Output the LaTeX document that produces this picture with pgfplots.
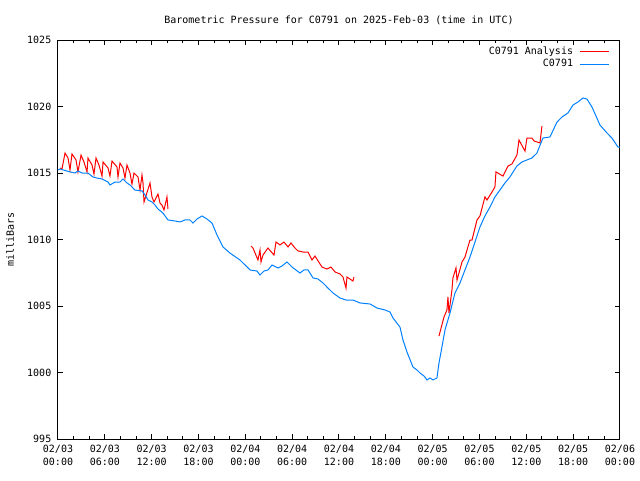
\documentclass[border=0pt]{standalone}
\usepackage{fontspec}
\setmainfont{DejaVu Sans Mono}
\usepackage{pgfplots}
\pgfplotsset{compat=1.18}
\definecolor{gred}{RGB}{255,0,0}
\definecolor{gblue}{RGB}{0,128,255}
\begin{document}
\begin{tikzpicture}
\useasboundingbox (-43.5pt,-30.75pt) rectangle (436.5pt,329.25pt);
\begin{axis}[
  at={(0,0)}, anchor=south west,
  scale only axis, width=421.5pt, height=299.25pt,
  xmin=0, xmax=72, ymin=995, ymax=1025,
  xtick={0,6,...,72}, minor xtick={2,4,8,10,14,16,20,22,26,28,32,34,38,40,44,46,50,52,56,58,62,64,68,70},
  ytick={995,1000,...,1025},
  xticklabels={02/03\\00:00,02/03\\06:00,02/03\\12:00,02/03\\18:00,02/04\\00:00,02/04\\06:00,02/04\\12:00,02/04\\18:00,02/05\\00:00,02/05\\06:00,02/05\\12:00,02/05\\18:00,02/06\\00:00},
  xticklabel style={align=center, font=\fontsize{7.5}{9.75}\selectfont, yshift=-1pt},
  yticklabel style={font=\fontsize{7.5}{9}\selectfont, xshift=-1.5pt},
  /pgf/number format/assume math mode=true,
  /pgf/number format/1000 sep={},
  tick align=inside,
  major tick length=3.75pt, minor tick length=2.25pt,
  every tick/.style={black, line width=0.75pt},
  axis line style={black, line width=0.75pt},
  title={Barometric Pressure for C0791 on 2025-Feb-03 (time in UTC)},
  every axis title/.style={at={(rel axis cs:0.5,1)}, yshift=15pt, anchor=center, font=\fontsize{7.5}{9}\selectfont},
  ylabel={milliBars},
  every axis y label/.style={at={(rel axis cs:0,0.5)}, xshift=-36pt, rotate=90, anchor=center, font=\fontsize{7.5}{9}\selectfont},
  legend plot pos=right,
  legend cell align=right,
  legend image code/.code={\draw[#1] (0pt,0pt) -- (21.75pt,0pt);},
  legend style={at={(rel axis cs:1,1)}, anchor=north east, xshift=-7.5pt, yshift=-5pt,
    draw=none, fill=none, inner sep=0pt, row sep=2.3pt,
    font=\fontsize{7.5}{9}\selectfont,
    nodes={inner sep=0pt, text height=5.5pt, text depth=1.5pt},
    /tikz/every odd column/.append style={column sep=5pt}},
  unbounded coords=jump,
]
\addplot[gred, line width=0.75pt, no marks] table {
x y
0.26 1015.38
0.51 1015.30
0.90 1016.50
1.28 1016.13
1.54 1015.23
1.79 1016.43
2.31 1015.98
2.56 1015.08
2.95 1016.35
3.33 1015.83
3.72 1015.08
3.84 1016.13
4.36 1015.60
4.61 1014.92
4.87 1016.13
5.25 1015.60
5.64 1014.77
5.77 1015.83
6.41 1015.38
6.66 1014.77
6.92 1015.90
7.56 1015.45
7.69 1014.70
7.94 1015.75
8.33 1015.38
8.58 1014.62
8.84 1015.60
9.22 1015.00
9.48 1014.17
9.74 1015.00
10.25 1014.70
10.51 1013.72
10.76 1014.85
10.89 1014.25
11.02 1012.82
11.79 1014.25
12.04 1013.20
12.30 1012.82
12.81 1013.42
13.07 1012.74
13.32 1012.59
13.58 1012.22
13.96 1013.20
14.09 1012.29
20.00 nan
24.73 1009.51
24.98 1009.36
25.62 1008.46
25.88 1009.21
26.01 1008.31
26.26 1008.83
26.90 1009.36
27.67 1008.83
27.93 1009.81
28.44 1009.59
28.95 1009.81
29.47 1009.44
29.85 1009.74
30.36 1009.36
30.75 1009.14
31.39 1009.06
32.03 1009.06
32.54 1008.46
32.92 1008.76
33.82 1007.93
34.46 1007.78
34.97 1007.93
35.49 1007.56
36.13 1007.41
36.51 1007.18
36.90 1006.35
37.02 1007.18
37.79 1006.88
37.92 1007.18
44.00 nan
48.81 1002.74
49.45 1004.17
49.83 1004.70
49.96 1005.68
50.09 1004.47
50.47 1006.20
50.60 1007.11
50.99 1007.86
51.12 1006.95
51.76 1008.31
52.14 1008.68
52.78 1009.96
53.04 1009.96
53.68 1011.47
54.06 1011.77
54.70 1013.20
54.96 1012.97
55.60 1013.57
55.98 1013.95
56.11 1015.08
57.01 1014.77
57.65 1015.53
58.16 1015.68
58.80 1016.35
59.06 1017.48
59.83 1016.65
60.08 1017.63
60.72 1017.63
60.98 1017.41
61.75 1017.26
62.00 1018.53
};
\addlegendentry{C0791 Analysis}
\addplot[gblue, line width=0.75pt, no marks] table {
x y
0 1015.23
0.26 1015.30
1.54 1015.08
2.18 1015.00
2.56 1015.15
3.08 1015.00
3.84 1015.00
4.48 1014.70
5.00 1014.62
5.64 1014.55
6.41 1014.32
6.66 1014.10
7.30 1014.32
7.94 1014.32
8.33 1014.55
8.84 1014.25
9.22 1014.10
9.86 1013.72
10.76 1013.65
11.15 1013.35
11.53 1012.97
12.04 1012.82
12.43 1012.59
12.81 1012.29
13.45 1011.99
14.09 1011.47
14.99 1011.39
15.63 1011.32
16.27 1011.47
16.91 1011.47
17.29 1011.24
17.81 1011.54
18.45 1011.77
19.09 1011.54
19.73 1011.24
20.37 1010.34
21.14 1009.44
22.03 1008.98
23.32 1008.46
24.60 1007.71
25.49 1007.63
25.88 1007.33
26.39 1007.63
26.90 1007.71
27.42 1008.08
28.18 1007.86
28.70 1008.01
29.34 1008.31
29.98 1007.93
31.00 1007.48
31.51 1007.71
32.03 1007.71
32.67 1007.11
33.31 1007.03
33.95 1006.73
34.59 1006.35
35.23 1005.98
36.13 1005.60
36.90 1005.45
37.79 1005.45
38.69 1005.23
39.97 1005.15
40.87 1004.85
41.89 1004.70
42.53 1004.55
42.92 1004.10
43.81 1003.42
44.20 1002.44
44.71 1001.54
45.48 1000.41
45.99 1000.19
46.38 999.96
46.89 999.74
47.27 999.44
47.66 999.59
48.04 999.44
48.55 999.59
48.81 1000.71
49.19 1001.92
49.58 1003.20
50.22 1004.47
50.86 1005.98
51.50 1006.73
52.14 1007.71
52.78 1008.68
53.42 1009.81
54.06 1010.94
54.70 1011.77
55.34 1012.44
55.98 1013.20
56.62 1013.72
57.26 1014.25
57.90 1014.70
58.80 1015.53
59.44 1015.83
60.08 1015.98
60.72 1016.13
61.36 1016.50
62.13 1017.63
63.03 1017.71
63.93 1018.83
64.57 1019.21
65.33 1019.51
65.98 1020.11
66.62 1020.34
67.26 1020.64
67.77 1020.56
68.41 1019.96
68.92 1019.29
69.43 1018.61
70.33 1018.01
70.97 1017.63
71.74 1016.95
72.00 1016.95
};
\addlegendentry{C0791}
\end{axis}
\end{tikzpicture}
\end{document}
